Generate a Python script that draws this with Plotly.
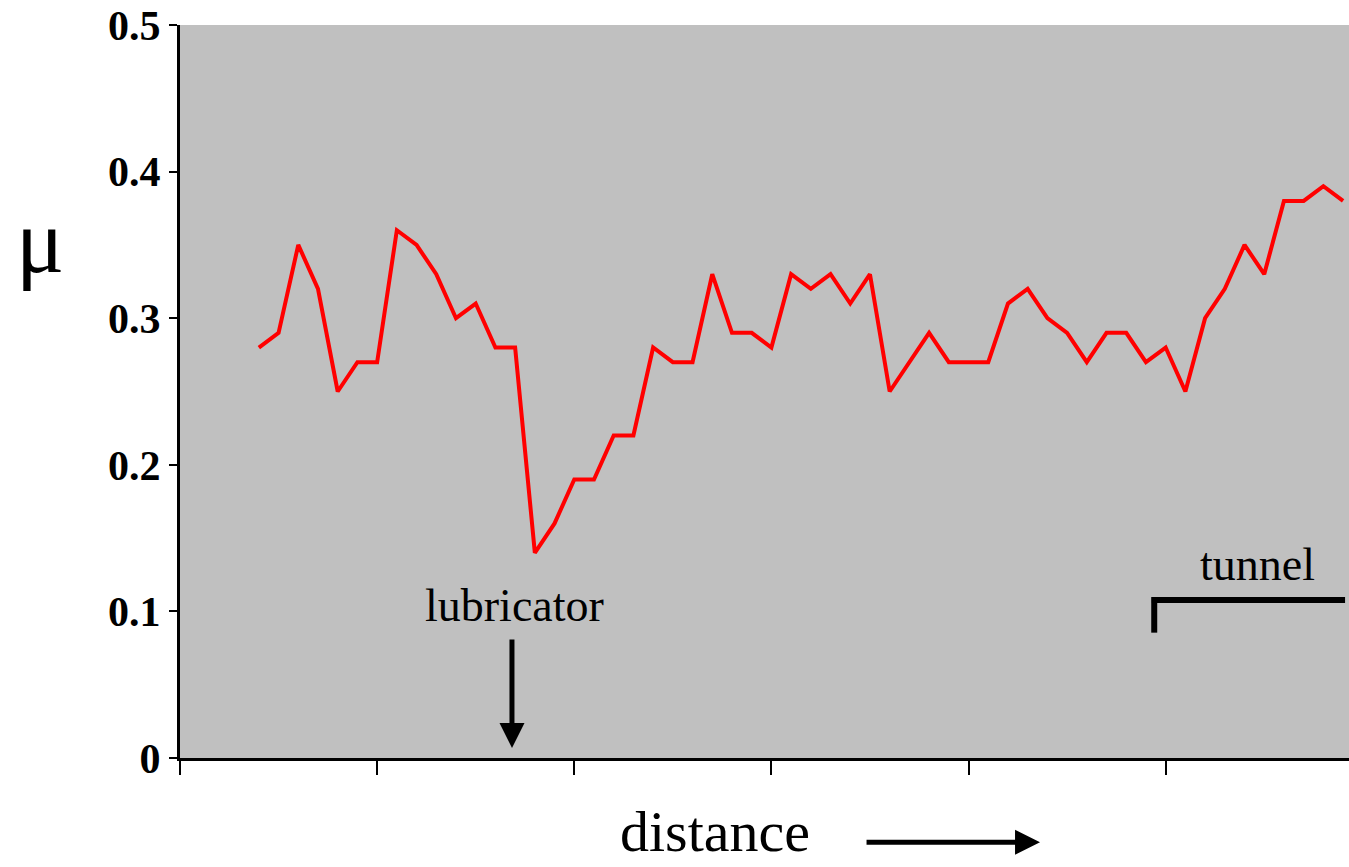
import plotly.graph_objects as go

# data
positions = list(range(4, 60))
mu_values = [0.28, 0.29, 0.35, 0.32, 0.25, 0.27, 0.27, 0.36, 0.35, 0.33,
             0.30, 0.31, 0.28, 0.28, 0.14, 0.16, 0.19, 0.19, 0.22, 0.22,
             0.28, 0.27, 0.27, 0.33, 0.29, 0.29, 0.28, 0.33, 0.32, 0.33,
             0.31, 0.33, 0.25, 0.27, 0.29, 0.27, 0.27, 0.27, 0.31, 0.32,
             0.30, 0.29, 0.27, 0.29, 0.29, 0.27, 0.28, 0.25, 0.30, 0.32,
             0.35, 0.33, 0.38, 0.38, 0.39, 0.38]
x_tickvals = [0, 10, 20, 30, 40, 50]
y_tickvals = [0, 0.1, 0.2, 0.3, 0.4, 0.5]
y_ticktext = ["0", "0.1", "0.2", "0.3", "0.4", "0.5"]

SERIF = "Liberation Serif, Times New Roman, serif"

fig = go.Figure()
fig.add_trace(go.Scatter(x=positions, y=mu_values, mode="lines",
                         line=dict(color="#ff0000", width=4),
                         showlegend=False, hoverinfo="skip"))

fig.update_layout(
    width=1349, height=867,
    margin=dict(l=180, r=0, t=25, b=109),
    paper_bgcolor="white",
    plot_bgcolor="#c0c0c0",
    xaxis=dict(range=[0, 59.3], tickvals=x_tickvals, showticklabels=False,
               ticks="outside", ticklen=14, tickwidth=2, tickcolor="black",
               showline=True, linecolor="black", linewidth=3,
               showgrid=False, zeroline=False, fixedrange=True),
    yaxis=dict(range=[0, 0.5], tickvals=y_tickvals, ticktext=y_ticktext,
               ticks="outside", ticklen=8, tickwidth=2, tickcolor="black",
               tickfont=dict(family=SERIF, size=42, color="black", weight="bold"),
               showline=True, linecolor="black", linewidth=3,
               showgrid=False, zeroline=False, fixedrange=True),
)

annotations = [
    # mu axis label
    dict(text="μ", xref="paper", yref="paper", x=-0.12, y=0.705,
         xanchor="center", yanchor="middle", showarrow=False,
         font=dict(family=SERIF, size=90, color="black")),
    # distance label
    dict(text="distance", xref="paper", yref="paper", x=0.4577, y=-0.1,
         xanchor="center", yanchor="middle", showarrow=False,
         font=dict(family=SERIF, size=58, color="black")),
    # distance arrow
    dict(text="", xref="paper", yref="paper", x=0.7357, y=-0.115,
         ax=-175, ay=0, showarrow=True, arrowhead=2, arrowsize=1,
         arrowwidth=5, arrowcolor="black"),
    # lubricator label
    dict(text="lubricator", xref="x", yref="y", x=16.99, y=0.104,
         xanchor="center", yanchor="middle", showarrow=False,
         font=dict(family=SERIF, size=46, color="black")),
    # lubricator arrow
    dict(text="", xref="x", yref="y", x=16.84, y=0.0068,
         ax=0, ay=-110, showarrow=True, arrowhead=2, arrowsize=1,
         arrowwidth=5, arrowcolor="black"),
    # tunnel label
    dict(text="tunnel", xref="x", yref="y", x=54.67, y=0.1317,
         xanchor="center", yanchor="middle", showarrow=False,
         font=dict(family=SERIF, size=46, color="black")),
]
fig.update_layout(annotations=annotations)

# tunnel bracket
fig.add_shape(type="line", xref="x", yref="y", x0=49.3, x1=59.1,
              y0=0.1078, y1=0.1078, line=dict(color="black", width=6))
fig.add_shape(type="line", xref="x", yref="y", x0=49.42, x1=49.42,
              y0=0.1098, y1=0.0855, line=dict(color="black", width=6))

fig.write_html("out.html")
